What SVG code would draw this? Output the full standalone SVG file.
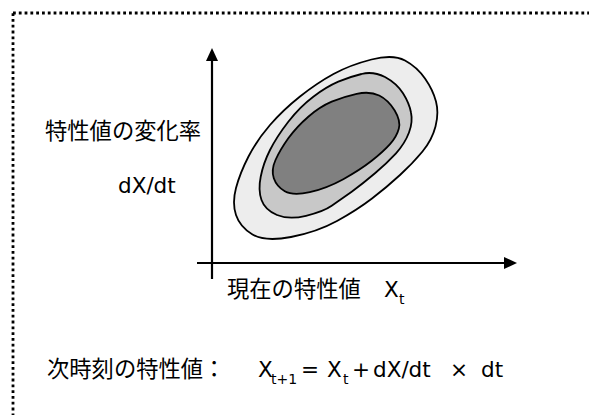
<svg xmlns="http://www.w3.org/2000/svg" width="589" height="415" viewBox="0 0 589 415">
<style>
.t{font-family:"DejaVu Sans","Noto Sans CJK JP",sans-serif;font-size:21.5px;fill:#000}
.j{font-family:"Noto Sans CJK JP",sans-serif;font-size:22.3px}
.s{font-size:14px}
.c{stroke:#000;stroke-width:1.8;stroke-linejoin:round}
.ax{stroke:#000;stroke-width:2.2;fill:none}
</style>
<defs>
<marker id="ah" viewBox="0 0 13 12" refX="2" refY="6" markerWidth="13" markerHeight="12" markerUnits="userSpaceOnUse" orient="auto">
<path d="M0,0 L13,6 L0,12 Z" fill="#000"/>
</marker>
</defs>
<rect id="frame" x="13" y="13" width="620" height="440" fill="none" stroke="#000" stroke-width="2.8" stroke-dasharray="2.8 3"/>
<g id="contours">
<path id="outer" class="c" fill="#ededed" d="M371.5 59.5 Q393 54 405 60.5 Q417 67 425 78.5 Q433 90 436 101.5 Q439 113 435.5 126.5 Q432 140 422.5 151.5 Q413 163 400 175 Q387 187 372 198.5 Q357 210 337 221 Q317 232 291 237 Q265 242 252.5 234.5 Q240 227 236 215 Q232 203 236 188 Q240 173 248.5 156.5 Q257 140 270 125 Q283 110 300 96.5 Q317 83 333.5 74 Q350 65 371.5 59.5 Z"/>
<path id="middle" class="c" fill="#c8c8c8" d="M361.5 74 Q373 71 385 77 Q396.7 83.3 403 93.3 Q409.3 103.3 411 112.5 Q413 122 409 132.5 Q405 143.3 396 153.3 Q386.7 163.3 375 173.3 Q363.3 183.3 351.7 191.7 Q340 200 331.7 205.8 Q323.3 211.7 306 215.8 Q289 220 277 215 Q265 210 261.5 200 Q258 190 260.7 176.7 Q263.3 163.3 270 150 Q276.7 136.7 288.3 121.7 Q300 106.7 313.3 96.7 Q326.7 86.7 338.3 81.7 Q350 76.7 361.5 74 Z"/>
<path id="inner" class="c" fill="#808080" d="M356.7 93.8 Q370 91 379.2 95.5 Q388.3 100 394.7 110.5 Q401 121 398.8 128.8 Q396.7 136.7 390 144.2 Q383.3 151.7 371.7 160.8 Q360 170 343.3 179.2 Q326.7 188.3 309.8 192.2 Q293 196 284.8 191.3 Q276.7 186.7 273.8 178.3 Q271 170 275.5 160 Q280 150 288.3 138.3 Q296.7 126.7 308.3 116.7 Q320 106.7 331.7 101.7 Q343.3 96.7 356.7 93.8 Z"/>
</g>
<g id="connectors">
<line id="yaxis" class="ax" x1="212" y1="279" x2="212" y2="59" marker-end="url(#ah)"/>
<line id="xaxis" class="ax" x1="197" y1="263" x2="506" y2="263" marker-end="url(#ah)"/>
</g>
<g id="ylabel">
<text class="t j" x="45" y="139">特性値の変化率</text>
<text class="t" x="118" y="193">dX/dt</text>
</g>
<g id="xlabel">
<text class="t j" x="227" y="297">現在の特性値</text>
<text class="t" x="384" y="297">X</text>
<text class="t s" x="399" y="304">t</text>
</g>
<g id="formula">
<text class="t j" x="47" y="377">次時刻の特性値：</text>
<text class="t" x="258" y="377">X</text>
<text class="t s" x="271" y="384">t+1</text>
<text class="t" x="301" y="377">=</text>
<text class="t" x="327" y="377">X</text>
<text class="t s" x="343" y="384">t</text>
<text class="t" x="352" y="377">+</text>
<text class="t" x="373" y="377">dX/dt</text>
<text class="t" x="450" y="377">×</text>
<text class="t" x="481" y="377">dt</text>
</g>
</svg>
